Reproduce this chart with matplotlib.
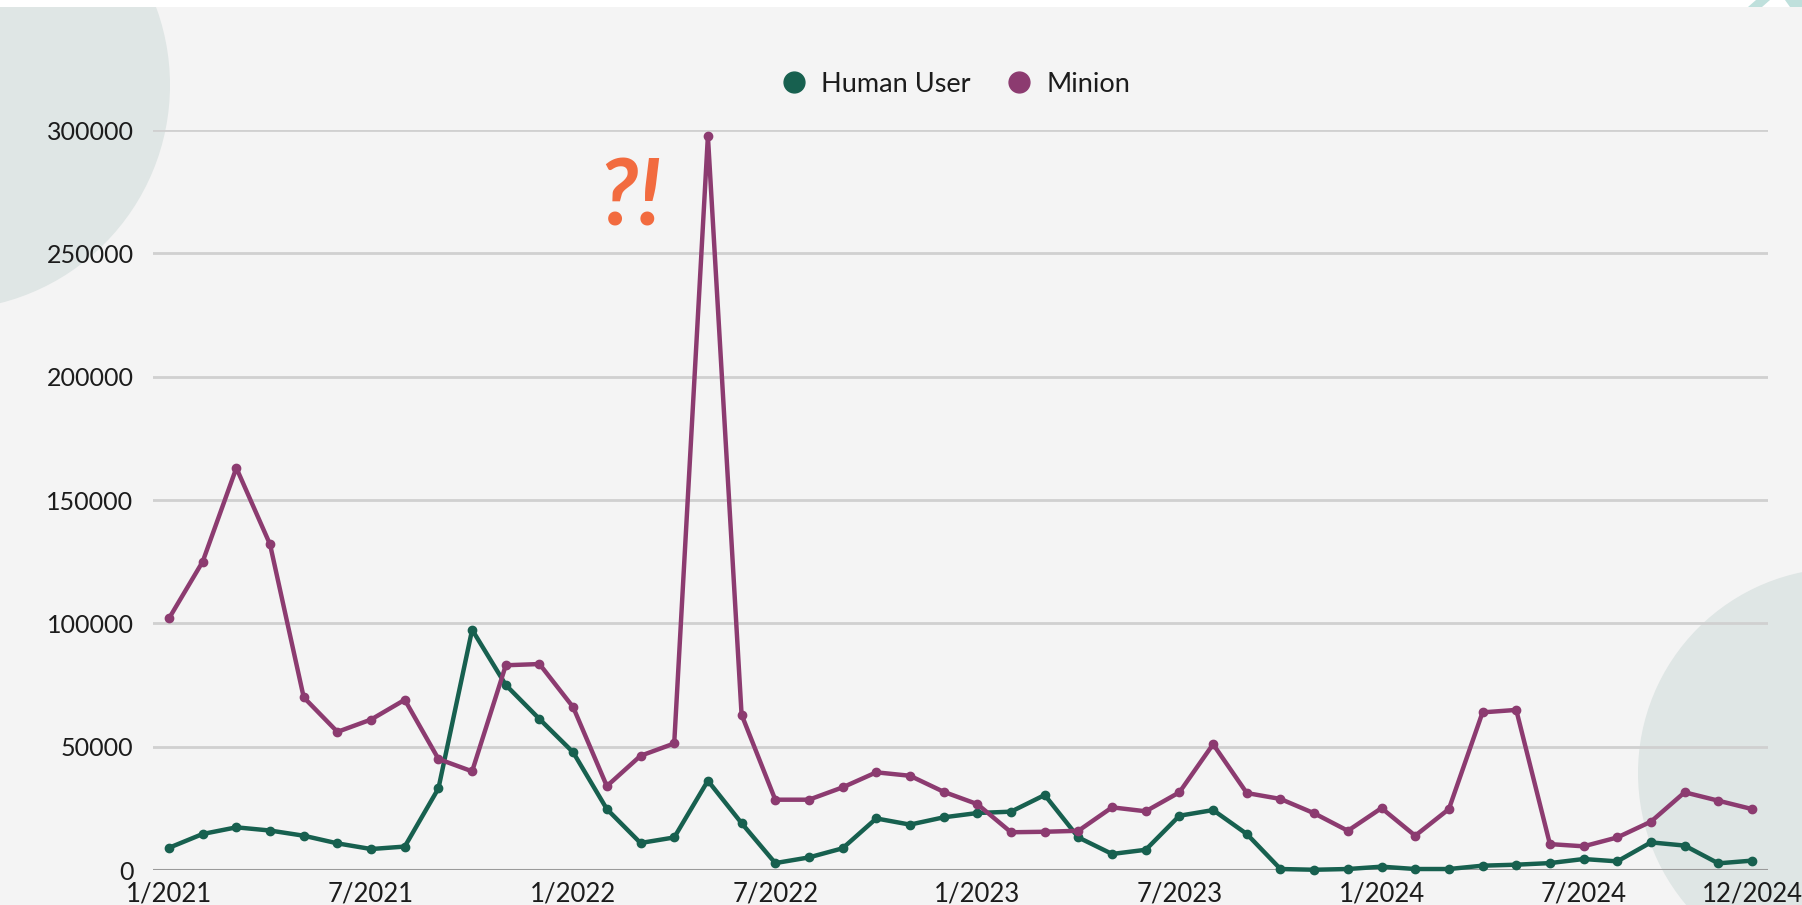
import matplotlib
matplotlib.use("Agg")
import matplotlib.pyplot as plt
from matplotlib.patches import Circle, Rectangle, Polygon
from matplotlib.lines import Line2D

# monthly counts, 1/2021 .. 12/2024
human_user = [9000, 14600, 17300, 16000, 13900, 10800, 8500, 9500, 33100, 97400, 75000, 61200,
              47700, 24700, 10950, 13200, 36200, 19000, 2800, 5100, 8800, 20900, 18400, 21350,
              23100, 23650, 30400, 13200, 6500, 8200, 22000, 24300, 14600, 400, 100, 400,
              1350, 400, 400, 1750, 2150, 2800, 4450, 3500, 11200, 9900, 2700, 3800]
minion = [102000, 125000, 163000, 132000, 70000, 56000, 61000, 69000, 45000, 40000, 83000, 83500,
          66000, 34000, 46300, 51300, 297500, 63000, 28500, 28500, 33500, 39600, 38200, 31700,
          26700, 15300, 15500, 15900, 25400, 23800, 31500, 51000, 31200, 28800, 23000, 15900,
          25100, 13900, 24700, 63900, 64900, 10500, 9600, 13200, 19600, 31500, 28100, 24700]
tick_pos = [0, 6, 12, 18, 24, 30, 36, 42, 47]
tick_labels = ['1/2021', '7/2021', '1/2022', '7/2022', '1/2023', '7/2023',
               '1/2024', '7/2024', '12/2024']
y_ticks = [0, 50000, 100000, 150000, 200000, 250000, 300000]

green = '#17604f'
purple = '#8c3b70'
bg = '#f4f4f4'
deco = '#dfe6e5'
txt = '#1c1c1c'

plt.rcParams['font.family'] = ['Lato', 'DejaVu Sans']

fig = plt.figure(figsize=(18.02, 9.05), dpi=100)
fig.patch.set_facecolor(bg)

# background decorations in pixel units
bgax = fig.add_axes([0, 0, 1, 1], zorder=0)
bgax.set_xlim(0, 1802)
bgax.set_ylim(905, 0)
bgax.axis('off')
bgax.add_patch(Circle((-55, 85), 225, color=deco, lw=0))
bgax.add_patch(Circle((1843, 773), 205, color=deco, lw=0))
bgax.add_patch(Rectangle((0, 0), 1802, 7, color='white', lw=0))
bgax.add_patch(Polygon([(1748, 7), (1756, 0), (1770, 0), (1762, 7)], color='#bfe0dc', lw=0))
bgax.add_patch(Polygon([(1785, 0), (1802, 0), (1802, 7), (1790, 7)], color='#bfe0dc', lw=0))

ax = fig.add_axes([153 / 1802, 35 / 905, 1615 / 1802, 740 / 905], zorder=1)
ax.set_facecolor('none')
x = list(range(len(minion)))
ax.plot(x, human_user, color=green, lw=3.2, marker='o', ms=6, clip_on=False, zorder=3)
ax.plot(x, minion, color=purple, lw=3.2, marker='o', ms=6, clip_on=False, zorder=3)

ax.set_xlim(-0.475, 47.475)
ax.set_ylim(0, 300000)
ax.set_yticks(y_ticks)
ax.set_yticklabels([str(v) for v in y_ticks])
ax.set_xticks(tick_pos)
ax.set_xticklabels(tick_labels)
ax.tick_params(axis='y', length=0, pad=14, labelsize=18, labelcolor=txt)
ax.tick_params(axis='x', length=0, pad=8, labelsize=18.5, labelcolor=txt)
ax.grid(axis='y', color='#d0d0d0', lw=2)
ax.set_axisbelow(True)
for s in ax.spines.values():
    s.set_visible(False)
ax.axhline(0, color='#9a9a9a', lw=1.5, zorder=2)

handles = [Line2D([], [], ls='', marker='o', ms=15, color=green, label='Human User'),
           Line2D([], [], ls='', marker='o', ms=15, color=purple, label='Minion')]
fig.legend(handles=handles, loc='center', bbox_to_anchor=(955 / 1802, 1 - 84 / 905), ncol=2,
           frameon=False, prop={'size': 19.5}, handlelength=1.0, handletextpad=0.5,
           columnspacing=1.3, labelcolor=txt)

fig.text(630 / 1802, 1 - 200 / 905, '?!', color='#f26b3f', fontsize=66, fontweight='bold',
         fontstyle='italic', ha='center', va='center')

fig.savefig('out.png', dpi=100, facecolor=bg)
